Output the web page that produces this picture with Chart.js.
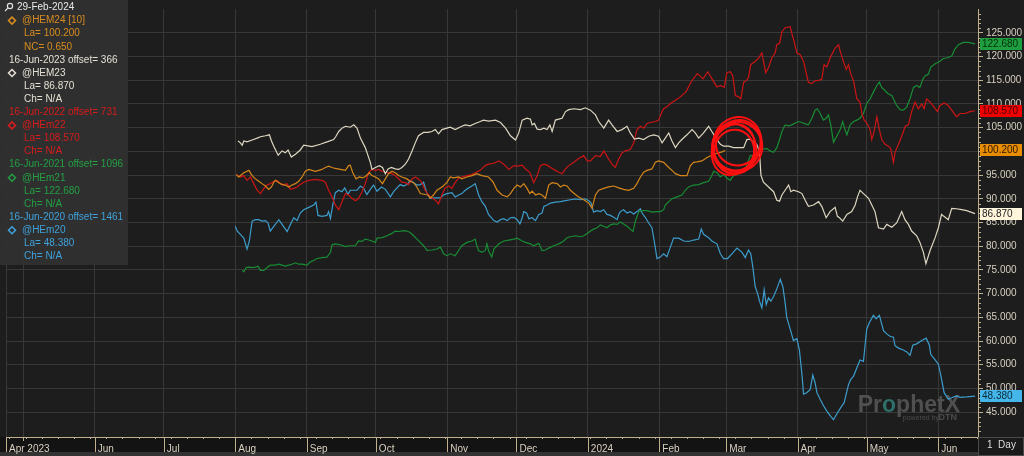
<!DOCTYPE html>
<html>
<head>
<meta charset="utf-8">
<script src="https://cdn.jsdelivr.net/npm/chart.js@4.4.1/dist/chart.umd.min.js"></script>
<style>
html,body{margin:0;padding:0;background:#1d1d1d;overflow:hidden;}
canvas{display:block;}
</style>
</head>
<body>
<canvas id="chart" width="1024" height="456"></canvas>
<script>
// ---------------- DATA ----------------
// x = calendar days since 2023-08-01 on the @HEM24 timeline (older contracts shifted by their offset)
const cursorDate = '29-Feb-2024';
const xTickDays   = [-99.5, -92, -61, -31, 0, 31, 61, 92, 122, 153, 184, 213, 244, 274, 305];
const xTickLabels = ['Apr 2023', '', 'Jun', 'Jul', 'Aug', 'Sep', 'Oct', 'Nov', 'Dec', '2024', 'Feb', 'Mar', 'Apr', 'May', 'Jun'];
const yTickValues = [45, 50, 55, 60, 65, 70, 75, 80, 85, 90, 95, 100, 105, 110, 115, 120, 125];

const seriesNames   = ['@HEM24 [10]', '@HEM23', '@HEm22', '@HEm21', '@HEm20'];
const seriesHeaders = [null, '16-Jun-2023 offset= 366', '16-Jun-2022 offset= 731', '16-Jun-2021 offset= 1096', '16-Jun-2020 offset= 1461'];
const seriesChange  = ['NC= 0.650', 'Ch= N/A', 'Ch= N/A', 'Ch= N/A', 'Ch= N/A'];

const HEM24 = [[0.4,95.1],[1.5,94.6],[3.7,95.5],[5.9,96.0],[7.3,94.9],[8.7,94.2],[10.2,93.7],[11.6,93.2],[13.1,92.7],[14.5,92.0],[15.7,92.5],[16.7,93.5],[17.4,93.9],[18.9,93.4],[20.3,93.0],[21.7,92.9],[23.2,92.5],[24.6,92.9],[26.1,93.2],[27.5,93.7],[29.0,94.6],[30.4,95.8],[31.9,96.2],[33.3,96.0],[34.7,95.8],[36.2,96.0],[37.6,96.2],[39.1,96.6],[40.5,96.9],[42.0,96.6],[43.4,96.4],[45.6,96.2],[47.8,96.0],[49.2,97.0],[49.9,97.1],[50.9,95.6],[52.4,94.2],[53.8,94.6],[55.3,94.4],[56.7,94.8],[58.2,95.5],[59.3,94.9],[60.8,94.6],[62.2,94.2],[63.9,93.2],[65.1,94.2],[66.5,95.3],[68.0,95.8],[69.4,95.5],[70.9,94.9],[72.3,94.6],[74.5,94.2],[75.9,93.7],[77.4,93.4],[78.8,92.5],[80.3,91.1],[82.4,90.9],[83.6,90.8],[84.6,90.1],[86.0,90.8],[87.5,91.8],[89.7,92.5],[91.8,93.4],[93.3,94.6],[94.7,94.4],[96.9,94.6],[98.3,94.2],[100.5,94.6],[102.7,94.9],[104.8,95.3],[107.0,94.9],[109.9,94.6],[111.9,93.5],[113.6,91.8],[115.8,90.8],[118.0,90.4],[119.4,91.1],[120.9,92.2],[122.3,92.9],[123.8,92.5],[125.2,93.2],[126.6,92.2],[127.8,91.1],[128.8,91.6],[130.3,90.8],[131.7,91.1],[133.1,90.8],[134.6,90.1],[136.0,92.9],[137.5,93.4],[139.7,93.2],[141.1,92.5],[142.5,92.9],[144.0,92.7],[145.4,91.8],[147.6,90.9],[149.0,90.4],[151.2,89.8],[153.4,89.1],[154.8,88.0],[156.3,90.8],[157.7,91.8],[159.9,92.2],[162.0,92.5],[164.2,92.7],[166.4,92.3],[168.5,92.0],[170.7,91.8],[172.9,92.2],[174.3,93.2],[175.8,94.6],[177.2,95.6],[178.7,96.0],[180.8,96.3],[182.3,97.7],[183.7,98.0],[185.9,97.7],[188.1,96.6],[189.5,96.0],[191.0,95.3],[193.1,94.9],[196.0,94.9],[197.5,97.0],[198.9,97.7],[200.3,97.8],[202.5,98.0],[204.7,98.7],[206.8,99.2],[209.0,99.6],[211.2,99.9],[212.6,100.2]];

const HEM23 = [[1.2,102.2],[2.2,101.8],[3.0,101.3],[3.7,102.2],[5.1,102.0],[7.3,102.4],[9.5,102.8],[10.9,103.1],[13.1,103.3],[14.8,103.5],[15.7,102.2],[16.7,101.1],[18.6,99.2],[20.3,100.1],[21.7,99.7],[22.9,100.3],[24.3,98.8],[26.1,99.4],[28.2,100.3],[29.7,101.3],[33.3,101.0],[36.9,101.5],[39.8,102.0],[42.7,102.5],[43.7,103.2],[44.9,104.2],[46.3,104.9],[47.8,105.3],[49.9,105.1],[51.4,105.6],[52.8,104.9],[54.3,102.8],[56.4,100.8],[57.6,99.1],[58.6,97.7],[59.3,96.2],[60.8,96.6],[62.5,97.0],[63.9,96.6],[65.1,95.3],[66.3,96.3],[67.7,96.6],[69.4,96.3],[70.9,96.2],[72.3,96.6],[73.8,97.3],[75.2,98.4],[76.7,100.1],[78.1,101.8],[79.5,103.3],[81.7,104.0],[83.6,104.0],[85.3,104.2],[86.8,104.6],[88.2,103.7],[89.7,104.6],[91.8,104.9],[93.3,105.1],[95.4,104.6],[98.3,105.3],[99.8,105.6],[101.9,105.4],[104.1,105.9],[106.3,106.3],[107.7,106.6],[109.9,106.4],[112.9,106.6],[115.1,106.1],[117.3,104.9],[119.4,103.3],[121.6,102.4],[123.0,103.9],[124.5,106.6],[126.6,107.0],[128.1,106.8],[128.8,105.6],[129.8,105.9],[131.0,104.7],[132.4,104.6],[133.9,104.9],[135.3,104.6],[136.5,105.6],[137.5,104.2],[138.9,106.6],[140.4,106.8],[141.8,107.0],[143.3,108.4],[144.7,108.8],[146.9,109.0],[149.8,108.8],[151.9,109.2],[154.1,108.7],[156.3,107.7],[157.7,106.3],[159.9,104.9],[162.0,106.6],[163.5,105.6],[165.7,104.2],[167.8,104.6],[170.0,105.3],[171.4,103.9],[173.2,102.6],[175.1,102.8],[177.2,102.5],[179.4,103.2],[181.6,103.5],[183.7,103.2],[185.2,101.8],[186.6,102.8],[188.1,103.9],[189.5,102.2],[191.0,100.8],[192.4,101.8],[193.8,102.5],[196.0,103.5],[198.2,104.6],[199.6,103.9],[201.1,102.8],[203.2,103.9],[205.4,105.3],[206.8,104.2],[209.0,102.5],[210.5,101.5],[211.9,101.1],[214.1,101.1],[216.2,100.8],[218.4,100.8],[220.6,100.8],[222.0,102.5],[223.5,102.6],[224.9,101.9],[226.3,101.5],[227.5,99.8],[228.1,95.0],[229.2,93.5],[231.4,92.5],[233.6,91.5],[235.0,89.7],[236.2,89.5],[237.2,90.8],[238.6,91.8],[240.1,92.9],[241.1,91.5],[242.2,91.8],[244.4,91.5],[245.9,91.1],[247.3,89.7],[248.7,88.4],[250.9,88.7],[253.1,89.4],[254.5,88.4],[256.4,86.0],[258.1,87.3],[260.3,88.2],[261.3,86.3],[262.2,86.0],[263.6,85.3],[265.4,86.7],[267.5,87.3],[269.0,88.7],[270.0,90.4],[271.1,91.8],[272.6,91.1],[274.8,90.1],[276.2,88.7],[277.6,87.3],[279.1,83.9],[281.3,83.6],[282.7,84.6],[284.9,84.0],[287.0,84.9],[289.2,87.3],[290.6,85.6],[292.1,84.6],[293.5,83.2],[295.7,82.2],[297.1,80.8],[298.6,78.7],[299.7,76.3],[301.5,79.1],[303.7,81.8],[305.1,83.9],[306.5,86.7],[307.5,86.3],[309.4,85.6],[310.9,88.0],[313.0,87.9],[315.2,87.7],[317.4,87.5],[321.0,86.87]];

const HEm22 = [[0.4,95.1],[2.2,94.6],[3.7,94.9],[5.1,93.9],[6.6,94.6],[8.0,93.2],[9.5,91.8],[10.9,91.1],[12.4,92.2],[13.8,92.9],[15.2,93.2],[16.7,93.7],[18.1,93.9],[19.6,93.2],[21.0,93.0],[22.5,93.2],[23.9,92.0],[25.4,92.2],[26.8,92.5],[28.2,93.0],[29.7,93.5],[31.9,93.9],[34.7,94.1],[37.6,93.9],[39.1,93.5],[40.5,91.8],[42.0,90.4],[43.4,88.7],[44.9,87.7],[46.3,89.4],[47.8,91.1],[49.2,90.8],[50.6,90.1],[52.1,89.6],[53.5,90.1],[55.0,91.5],[56.4,93.2],[57.9,95.6],[59.3,96.2],[60.8,96.0],[62.2,96.2],[63.7,95.8],[65.1,95.6],[66.5,95.5],[68.0,95.3],[69.4,94.9],[70.9,94.2],[72.3,93.5],[73.8,93.4],[75.2,93.0],[76.7,94.2],[78.1,94.6],[79.5,94.2],[81.0,93.4],[82.4,91.8],[83.9,90.8],[85.6,90.1],[87.1,89.6],[88.2,88.9],[89.7,90.9],[91.1,92.3],[92.6,92.7],[94.0,92.2],[95.4,93.4],[96.9,94.4],[98.3,94.6],[100.5,94.9],[102.7,95.1],[104.1,95.5],[106.3,96.0],[108.5,97.0],[109.9,97.3],[112.2,97.5],[114.4,98.0],[116.5,97.3],[118.7,96.2],[120.9,97.0],[122.3,96.9],[124.5,97.1],[125.9,96.3],[127.8,95.6],[129.5,93.4],[131.0,94.9],[132.4,97.0],[133.9,97.3],[135.3,97.1],[136.8,96.6],[138.9,96.0],[140.4,95.6],[141.8,95.3],[143.3,96.3],[144.7,97.0],[146.9,97.7],[149.0,98.5],[151.2,99.1],[152.7,98.0],[154.1,98.0],[156.3,99.1],[158.4,98.9],[159.9,100.1],[162.0,98.4],[163.5,97.3],[164.9,96.6],[166.4,98.4],[167.8,99.7],[169.3,100.1],[171.4,100.4],[172.9,101.8],[174.3,104.6],[175.8,105.3],[177.2,104.9],[178.7,105.9],[180.1,106.1],[182.3,106.3],[183.7,106.6],[185.2,108.4],[185.9,109.0],[187.3,109.4],[188.8,110.1],[191.0,110.8],[193.1,111.5],[195.5,112.5],[198.0,114.8],[200.5,116.4],[203.0,115.3],[205.0,116.8],[207.0,115.2],[209.0,113.6],[210.5,113.9],[212.2,113.5],[213.3,116.6],[214.8,116.8],[215.9,115.9],[217.0,111.8],[218.4,111.5],[219.4,111.1],[220.6,114.6],[221.7,114.9],[222.7,115.6],[223.7,118.3],[225.6,119.0],[227.1,119.7],[228.5,120.8],[229.2,119.0],[230.2,116.6],[231.4,117.7],[232.8,119.7],[234.3,120.8],[235.0,122.5],[236.2,122.8],[237.2,125.2],[238.6,126.1],[240.8,126.3],[241.5,124.9],[242.5,123.2],[243.7,120.8],[245.1,120.4],[246.6,119.0],[247.7,116.6],[248.7,114.6],[250.2,114.3],[251.6,114.9],[253.1,115.0],[254.5,115.2],[255.5,118.3],[256.7,117.8],[258.1,119.7],[260.3,121.8],[261.8,122.5],[262.5,121.1],[263.9,119.0],[265.1,117.3],[266.1,118.3],[267.1,116.3],[268.3,114.9],[269.7,111.1],[271.1,110.4],[271.9,108.0],[272.9,106.6],[274.0,106.0],[275.5,104.6],[276.2,102.5],[277.2,104.2],[278.4,107.3],[279.5,104.6],[280.5,102.5],[282.0,101.5],[283.4,101.1],[284.4,100.6],[285.6,97.7],[286.3,99.8],[287.8,101.5],[289.2,103.2],[290.7,105.3],[292.1,105.6],[293.5,108.4],[295.0,110.4],[296.4,109.0],[297.9,110.0],[298.9,109.0],[300.0,111.1],[301.5,110.4],[303.2,109.4],[304.7,108.4],[305.8,109.7],[307.6,110.2],[309.4,109.7],[310.9,108.7],[313.0,107.3],[314.5,108.0],[316.7,108.0],[318.8,108.4],[321.0,108.57]];

const HEm21 = [[3.0,74.9],[3.7,74.6],[4.7,75.5],[5.9,75.6],[7.3,75.5],[8.7,75.6],[9.9,75.8],[10.9,74.9],[12.4,74.9],[13.8,75.5],[15.2,76.0],[17.4,76.0],[18.9,76.2],[20.3,76.0],[21.7,75.8],[23.2,76.0],[24.6,76.2],[26.1,76.5],[27.5,76.2],[29.0,76.2],[31.1,76.0],[32.6,76.7],[34.0,77.0],[35.5,77.4],[37.6,77.6],[39.8,77.7],[41.3,78.7],[42.0,80.3],[43.4,80.5],[45.6,80.3],[47.8,79.9],[49.9,80.1],[52.1,80.1],[53.5,81.1],[55.0,81.0],[56.4,81.5],[57.9,81.3],[59.3,81.1],[60.8,80.8],[61.5,81.7],[63.7,81.8],[65.8,82.2],[68.0,82.7],[69.4,83.2],[70.9,83.1],[73.0,83.3],[74.5,83.2],[75.9,82.9],[77.4,82.2],[78.8,81.5],[80.3,80.8],[81.7,80.1],[83.2,79.1],[85.3,79.2],[87.5,79.4],[89.0,79.8],[90.4,78.4],[91.8,78.0],[93.3,78.4],[95.4,78.0],[96.9,79.1],[98.3,80.1],[100.5,80.8],[102.7,81.1],[104.1,81.5],[104.8,80.1],[105.6,79.1],[107.0,78.7],[108.5,79.1],[109.2,80.5],[109.9,79.1],[111.3,77.7],[112.2,79.4],[114.4,80.5],[116.5,81.1],[118.7,81.3],[120.9,81.5],[122.3,81.7],[124.5,81.1],[125.9,80.8],[128.1,80.5],[129.5,80.1],[131.7,80.6],[133.1,79.1],[134.6,79.2],[136.0,79.6],[138.2,80.1],[140.4,80.5],[142.5,81.1],[144.0,81.8],[145.4,82.0],[147.6,82.2],[149.8,82.0],[151.2,82.2],[152.7,82.7],[154.1,83.2],[155.5,83.6],[157.0,83.9],[158.4,84.5],[159.9,84.2],[161.3,83.9],[162.8,84.5],[164.2,84.7],[165.7,84.6],[167.1,85.1],[168.5,84.7],[170.0,84.2],[171.4,83.6],[172.6,83.1],[173.6,85.3],[175.1,87.3],[176.5,87.5],[178.7,87.5],[180.8,87.2],[183.0,87.3],[184.4,87.3],[185.9,87.7],[186.6,88.7],[188.1,89.4],[189.5,90.0],[191.7,90.4],[193.8,90.8],[195.3,91.8],[196.7,92.5],[198.9,92.9],[201.1,93.0],[203.2,93.4],[205.4,93.7],[206.8,94.9],[207.6,95.8],[209.0,95.5],[210.5,94.6],[211.9,95.1],[213.3,94.4],[214.8,93.9],[216.2,94.9],[218.4,95.3],[219.1,95.6],[221.3,96.3],[223.5,99.1],[224.9,99.1],[227.1,99.8],[228.5,100.5],[230.7,100.6],[232.1,100.1],[233.6,99.8],[235.0,100.8],[236.2,102.5],[237.2,104.2],[238.6,105.6],[240.1,105.4],[241.5,105.6],[243.0,106.0],[244.4,106.3],[245.9,106.1],[247.3,105.8],[248.7,105.6],[250.2,107.0],[251.6,108.7],[252.6,109.0],[253.8,108.0],[255.2,106.6],[256.4,107.0],[257.4,107.7],[258.4,105.6],[259.6,101.9],[261.0,103.2],[262.5,104.6],[263.6,106.3],[264.6,104.6],[265.4,103.5],[266.8,105.6],[268.3,106.3],[269.7,106.6],[271.1,107.0],[272.6,108.0],[274.0,110.1],[275.5,111.1],[276.9,112.5],[278.4,113.9],[279.5,114.6],[280.5,113.5],[282.0,112.8],[283.4,112.1],[284.9,111.8],[285.6,111.1],[287.0,109.7],[288.5,108.8],[289.9,108.7],[291.4,109.4],[292.8,111.1],[294.3,113.5],[295.7,113.9],[297.1,113.5],[298.3,115.2],[299.3,115.9],[300.8,116.3],[301.8,117.8],[303.7,118.5],[305.8,119.0],[307.3,119.6],[308.7,119.7],[310.9,120.1],[312.3,121.6],[313.8,122.5],[315.9,123.0],[318.1,123.0],[321.0,122.68]];

const HEm20 = [[0.0,84.2],[0.8,83.2],[2.2,82.5],[3.7,81.7],[5.1,79.4],[6.1,81.1],[7.3,85.3],[8.7,85.6],[10.2,85.6],[11.6,85.3],[13.1,85.4],[14.2,84.9],[15.2,83.2],[16.7,84.2],[18.9,85.6],[20.3,84.6],[22.5,83.1],[23.9,84.6],[25.4,86.0],[26.8,85.4],[28.2,87.0],[29.7,87.7],[31.9,88.2],[34.0,88.7],[35.0,89.3],[35.9,86.5],[37.6,86.3],[39.8,86.5],[40.5,87.3],[41.3,85.8],[42.3,88.7],[43.4,91.3],[44.9,91.8],[46.3,91.5],[47.5,92.3],[48.9,90.9],[49.9,91.8],[52.8,91.8],[54.3,92.7],[55.7,92.2],[57.1,90.9],[58.6,92.0],[60.0,92.9],[61.5,91.6],[63.4,92.5],[65.1,92.0],[67.3,90.4],[68.7,91.5],[70.2,92.3],[71.6,93.0],[73.0,92.7],[74.5,93.0],[75.9,93.9],[77.4,93.4],[78.8,92.9],[80.3,93.0],[81.7,93.5],[83.2,91.1],[84.6,90.1],[86.8,90.2],[89.0,90.2],[90.4,90.8],[91.8,91.1],[94.0,91.3],[95.4,90.4],[96.9,90.8],[98.3,91.1],[99.8,91.8],[101.2,92.3],[102.7,92.7],[104.1,93.2],[105.6,90.8],[107.0,89.4],[108.5,88.4],[109.9,86.7],[112.2,85.4],[113.6,85.1],[115.1,85.6],[116.5,85.8],[118.0,85.4],[119.4,86.0],[120.9,86.1],[122.3,85.6],[123.5,84.7],[124.5,86.0],[125.2,87.3],[126.4,87.0],[127.4,85.8],[128.8,86.0],[130.3,85.4],[131.7,86.7],[133.1,87.0],[133.9,88.4],[135.3,88.7],[136.8,89.1],[138.9,89.3],[141.1,89.4],[143.3,89.6],[145.4,89.8],[147.6,90.0],[149.8,89.8],[151.9,90.0],[153.4,89.6],[154.4,89.1],[155.5,87.2],[157.0,87.5],[158.4,87.3],[159.9,87.7],[161.3,86.7],[162.8,86.5],[164.2,86.1],[165.7,85.6],[166.4,86.7],[167.1,87.3],[168.5,87.7],[170.0,87.0],[171.4,87.3],[172.9,86.8],[174.3,87.3],[175.8,87.9],[176.5,87.0],[177.9,86.1],[179.4,84.9],[180.8,83.9],[181.8,81.1],[183.0,77.4],[184.4,77.7],[185.9,78.4],[187.3,77.8],[188.8,79.8],[190.2,81.7],[192.4,81.7],[194.6,81.1],[196.7,81.0],[198.9,81.3],[201.1,81.5],[202.2,83.6],[203.2,82.5],[205.4,81.8],[206.8,81.1],[209.0,80.5],[210.5,78.4],[211.9,77.4],[213.6,77.4],[215.5,78.4],[217.7,79.6],[219.9,78.7],[221.3,77.6],[222.7,79.2],[223.7,78.4],[224.6,75.6],[225.6,71.5],[226.6,70.1],[227.5,68.4],[228.5,67.0],[229.5,70.8],[230.4,67.7],[231.4,69.1],[232.4,68.4],[233.6,69.4],[235.0,71.0],[236.5,73.0],[237.6,71.5],[238.6,68.1],[239.3,65.0],[240.8,62.5],[242.2,60.1],[243.7,60.5],[244.8,58.1],[245.9,52.9],[246.6,48.8],[248.0,49.1],[249.5,49.8],[250.6,52.8],[251.6,51.2],[252.4,49.1],[253.8,47.7],[255.2,46.4],[257.0,45.0],[258.4,44.1],[259.6,43.4],[261.0,44.6],[262.8,46.0],[264.2,47.0],[266.1,50.8],[267.1,51.9],[268.3,52.6],[269.7,54.3],[271.1,56.0],[272.6,55.7],[273.3,59.1],[274.0,62.5],[275.2,63.9],[276.9,65.4],[278.1,64.7],[279.5,65.4],[281.3,62.2],[282.7,61.5],[284.1,61.0],[285.6,60.8],[286.3,59.0],[287.8,58.5],[289.9,58.1],[291.4,57.7],[292.8,57.0],[294.0,59.1],[295.7,59.4],[297.9,60.1],[299.8,60.6],[301.2,59.1],[301.8,57.2],[303.7,56.0],[305.1,55.1],[306.1,52.9],[307.6,49.1],[309.4,47.7],[311.6,48.2],[313.0,48.4],[314.5,48.1],[317.4,48.2],[321.0,48.38]];

const seriesData = [HEM24, HEM23, HEm22, HEm21, HEm20];
// annotation (hand-drawn circle) centre in data units
const circleAt = [217.4, 101.2];

// ---------------- STYLE ----------------
const FONT = '"Liberation Sans", Arial, sans-serif';
const BG = '#1d1d1d', BAND = '#131313', GRID = '#383838', TAN = '#bfb08e', AXTXT = '#d8d0c0';
const lineColors  = ['#d4861a', '#ddd6c0', '#cc1414', '#188c34', '#3c9ccc'];
const textColors  = ['#d98c1f', '#e4e0d4', '#d61c1c', '#23a043', '#3fa2dc'];
const badgeColors = ['#e88c00', '#fff6dc', '#ee0000', '#1e9e3e', '#44b6ea'];
const badgeText   = ['#2a1600', '#222222', '#4a0000', '#04300e', '#0a2838'];

Chart.defaults.font.family = FONT;
Chart.defaults.font.size = 10;

const decor = {
  id: 'decor',
  beforeDraw(chart) {
    const {ctx, chartArea: a, width, height} = chart;
    ctx.save();
    ctx.fillStyle = BG; ctx.fillRect(0, 0, width, height);
    ctx.fillStyle = BAND; ctx.fillRect(0, a.bottom, width, height - a.bottom);
    ctx.fillStyle = '#333333'; ctx.fillRect(0, height - 4, a.right, 4);
    ctx.restore();
  },
  beforeDatasetsDraw(chart) {
    const {ctx, chartArea: a} = chart;
    ctx.save();
    ctx.textBaseline = 'alphabetic';
    ctx.font = 'bold 23px ' + FONT;
    const right = a.right - 18, base = a.bottom - 25;
    const parts = [['Pr', '#505050'], ['o', '#2e6f6a'], ['phetX', '#505050']];
    let total = parts.reduce((s, p) => s + ctx.measureText(p[0]).width, 0);
    let x = right - total;
    parts.forEach(p => { ctx.fillStyle = p[1]; ctx.fillText(p[0], x, base); x += ctx.measureText(p[0]).width; });
    ctx.font = '7px ' + FONT;
    ctx.fillStyle = '#4c4c4c';
    ctx.textAlign = 'right';
    ctx.fillText('powered by', right - 21, base + 8);
    ctx.font = 'bold 9px ' + FONT;
    ctx.fillText('DTN', right - 3, base + 8);
    ctx.restore();
  },
  afterDatasetsDraw(chart) {
    const {ctx} = chart;
    const xs = chart.scales.x, ys = chart.scales.y;
    const cx = xs.getPixelForValue(circleAt[0]), cy = ys.getPixelForValue(circleAt[1]);
    ctx.save();
    ctx.strokeStyle = '#ff1010';
    ctx.lineWidth = 2;
    const loops = [[1, -2, 24, 27, 0.3], [-2, 3, 22, 25, -0.2], [2, -3, 22, 23, 0.6], [-2, 6, 20, 22, 0.1], [1, 1, 25, 25, -0.5], [-3, 4, 21, 26, 0.35]];
    loops.forEach(l => {
      ctx.beginPath();
      ctx.ellipse(cx + l[0], cy + l[1], l[2], l[3], l[4], 0, Math.PI * 2);
      ctx.stroke();
    });
    ctx.restore();
  },
  afterDraw(chart) {
    const {ctx, chartArea: a, width, height} = chart;
    const xs = chart.scales.x, ys = chart.scales.y;
    ctx.save();
    ctx.strokeStyle = TAN; ctx.lineWidth = 1;
    xs.ticks.forEach((t, i) => {
      const px = Math.round(xs.getPixelForValue(t.value)) + 0.5;
      ctx.beginPath();
      ctx.moveTo(px, a.bottom);
      ctx.lineTo(px, xTickLabels[i] ? height - 4 : a.bottom + 4);
      ctx.stroke();
    });
    for (let d = -98; d < xs.max; d += 7) {
      const px = Math.round(xs.getPixelForValue(d)) + 0.5;
      ctx.beginPath(); ctx.moveTo(px, a.bottom); ctx.lineTo(px, a.bottom + 2); ctx.stroke();
    }
    for (let v = Math.ceil(ys.min); v <= ys.max; v++) {
      if (v % 5 === 0) continue;
      const py = Math.round(ys.getPixelForValue(v)) + 0.5;
      ctx.beginPath(); ctx.moveTo(a.right, py); ctx.lineTo(a.right + 3, py); ctx.stroke();
    }
    ctx.font = '10px ' + FONT;
    ctx.textBaseline = 'middle';
    ctx.textAlign = 'left';
    seriesData.forEach((s, i) => {
      const v = s[s.length - 1][1];
      const py = Math.round(ys.getPixelForValue(v));
      ctx.fillStyle = badgeColors[i];
      ctx.fillRect(a.right + 2, py - 6, 42, 12);
      ctx.fillStyle = badgeText[i];
      ctx.fillText(v.toFixed(3), a.right + 4, py + 0.5);
    });
    ctx.fillStyle = '#1a1a1a';
    ctx.fillRect(a.right, a.bottom, width - a.right, height - a.bottom);
    ctx.strokeStyle = '#4a4a4a';
    ctx.strokeRect(a.right + 0.5, a.bottom + 0.5, width - a.right - 1, height - a.bottom - 1);
    ctx.fillStyle = '#dddddd';
    ctx.fillText('1  Day', a.right + 9, a.bottom + 8);
    ctx.fillStyle = 'rgba(48,48,48,0.93)';
    ctx.fillRect(0, 0, 128, 265);
    const lh = 13.1;
    let row = 0;
    const yAt = r => 7.5 + r * lh;
    ctx.strokeStyle = '#e0e0e0'; ctx.lineWidth = 1.2;
    ctx.beginPath(); ctx.arc(10, 6, 2.6, 0, Math.PI * 2); ctx.stroke();
    ctx.beginPath(); ctx.moveTo(8.1, 7.9); ctx.lineTo(5, 11); ctx.stroke();
    ctx.fillStyle = '#e8e8e8';
    ctx.fillText(cursorDate, 17, yAt(row++));
    seriesNames.forEach((name, i) => {
      const col = textColors[i];
      ctx.fillStyle = col;
      if (seriesHeaders[i]) ctx.fillText(seriesHeaders[i], 9, yAt(row++));
      const yy = yAt(row++);
      ctx.strokeStyle = col; ctx.lineWidth = 1.5;
      ctx.beginPath();
      ctx.moveTo(12, yy - 3.5); ctx.lineTo(15.5, yy); ctx.lineTo(12, yy + 3.5); ctx.lineTo(8.5, yy); ctx.closePath();
      ctx.stroke();
      ctx.fillText(name, 22, yy);
      const s = seriesData[i];
      ctx.fillText('La= ' + s[s.length - 1][1].toFixed(3), 24, yAt(row++));
      ctx.fillText(seriesChange[i], 24, yAt(row++));
    });
    ctx.restore();
  }
};

new Chart(document.getElementById('chart'), {
  type: 'line',
  data: {
    datasets: seriesData.map((d, i) => ({
      label: seriesNames[i],
      data: d,
      borderColor: lineColors[i],
      borderWidth: 1.2,
      pointRadius: 0,
      tension: 0,
      fill: false
    }))
  },
  options: {
    responsive: false,
    animation: false,
    devicePixelRatio: 1,
    layout: {padding: {left: 5, right: 0, top: 0, bottom: 0}},
    plugins: {legend: {display: false}, tooltip: {enabled: false}},
    scales: {
      x: {
        type: 'linear',
        min: -99.5,
        max: 322.3,
        afterBuildTicks: s => { s.ticks = xTickDays.map(v => ({value: v})); },
        afterFit: s => { s.height = 19; },
        grid: {color: GRID, drawTicks: false, lineWidth: 1},
        border: {color: TAN, width: 1},
        ticks: {
          autoSkip: false, maxRotation: 0, align: 'start', labelOffset: 3, padding: 6,
          color: AXTXT, font: {size: 10, family: FONT},
          callback: (v, i) => xTickLabels[i]
        }
      },
      y: {
        type: 'linear',
        position: 'right',
        min: 39.75,
        max: 130.04,
        afterBuildTicks: s => { s.ticks = yTickValues.map(v => ({value: v})); },
        afterFit: s => { s.width = 46; },
        grid: {color: GRID, tickColor: TAN, tickLength: 5, lineWidth: 1},
        border: {color: TAN, width: 1},
        ticks: {
          padding: 3, color: AXTXT, font: {size: 10, family: FONT},
          callback: v => Number(v).toFixed(3)
        }
      }
    }
  },
  plugins: [decor]
});
</script>
</body>
</html>
